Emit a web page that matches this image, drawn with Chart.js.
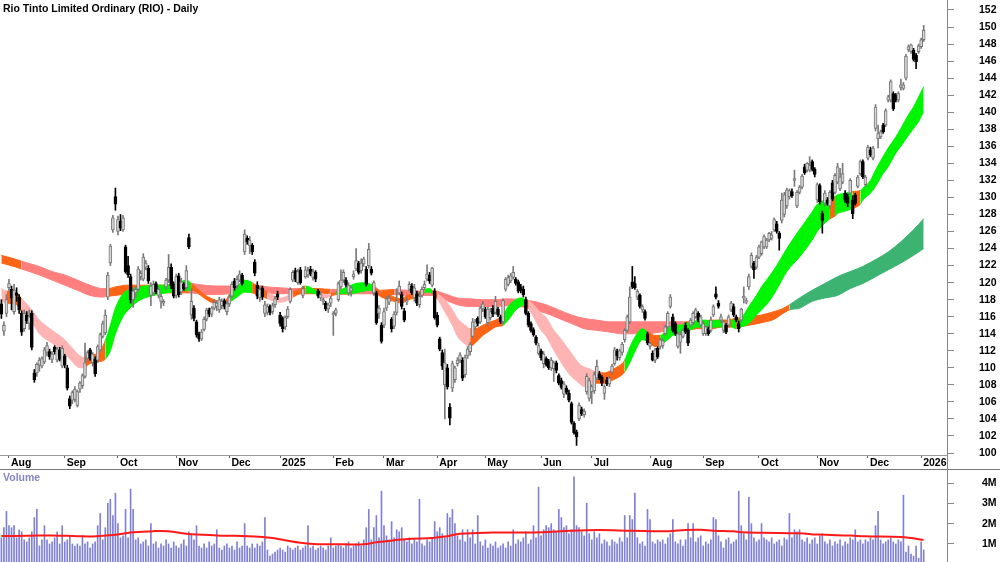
<!DOCTYPE html>
<html><head><meta charset="utf-8">
<script src="https://cdn.jsdelivr.net/npm/chart.js@4.4.1/dist/chart.umd.min.js"></script>
<style>
html,body{margin:0;padding:0;background:#fff;overflow:hidden;width:1000px;height:562px;}
#wrap{position:relative;width:1000px;height:562px;overflow:hidden;}
#pc{position:absolute;left:0;top:0;}
#vc{position:absolute;left:0;top:469px;}
.txt{position:absolute;font-family:"Liberation Sans",Arial,sans-serif;font-weight:bold;font-size:10.5px;line-height:13px;white-space:nowrap;}
#title{left:3px;top:2px;color:#000;}
#vlab{left:3px;top:471px;color:#8585c5;}
#hl{position:absolute;left:0;top:469px;width:1000px;height:1px;background:#777;}
#vl{position:absolute;left:947px;top:455px;width:1px;height:15px;background:#888;}
</style></head><body>
<div id="wrap">
<canvas id="pc" width="1000" height="469"></canvas>
<canvas id="vc" width="1000" height="93"></canvas>
<div id="hl"></div><div id="vl"></div>
<div class="txt" id="title">Rio Tinto Limited Ordinary (RIO) - Daily</div>
<div class="txt" id="vlab">Volume</div>
</div>
<script>
// ---- axis labels ----
const monthTickIndex  = [3,25,46,69,90,110,131,151,172,191,213,233,256,277,299,322,342,363];
const monthTickLabels = ['Aug','Sep','Oct','Nov','Dec','2025','Feb','Mar','Apr','May','Jun','Jul','Aug','Sep','Oct','Nov','Dec','2026'];
const priceTicks = [100,102,104,106,108,110,112,114,116,118,120,122,124,126,128,130,132,134,136,138,140,142,144,146,148,150,152];
const volumeTicks = [1,2,3,4];

// ---- daily candles [open, high, low, close], one per trading day from late Jul 2024 ----
const ohlc = [
[117.5,118.0,115.8,116.3],[114.3,115.4,113.8,115.0],[116.4,118.6,116.0,118.0],[119.4,120.4,119.0,119.9],[119.2,119.6,116.8,118.2],
[116.6,119.8,116.3,119.1],[118.8,119.4,117.8,118.5],[118.3,118.6,116.4,116.8],[116.4,116.7,113.8,114.2],[114.6,116.8,114.3,116.4],
[116.2,116.6,115.2,115.5],[115.2,116.8,114.5,116.0],[116.4,116.7,112.1,112.4],[109.4,109.8,108.3,108.6],[109.4,110.6,109.0,110.4],
[110.3,111.2,109.6,110.9],[110.2,111.3,110.0,111.1],[110.7,112.4,110.5,112.1],[111.8,113.0,111.4,112.6],[111.9,112.2,111.0,111.3],
[111.0,111.9,110.6,111.6],[112.4,112.6,111.6,111.9],[110.9,112.4,110.7,112.2],[112.1,112.4,110.8,111.0],[110.2,112.6,110.0,112.3],
[111.4,111.6,110.0,110.3],[110.0,110.3,107.4,107.6],[106.4,106.7,105.2,105.5],[106.2,107.3,105.8,107.1],[106.3,107.8,106.0,107.5],
[105.6,107.4,105.4,107.2],[107.5,108.4,107.1,108.2],[107.9,109.3,107.6,109.1],[109.0,112.9,108.8,110.6],[111.1,112.0,110.8,111.8],
[112.1,112.3,110.9,111.1],[110.6,111.8,110.2,111.6],[111.0,111.3,109.0,109.3],[110.9,112.7,110.6,112.5],[112.1,114.1,111.9,113.9],
[113.7,115.5,113.5,115.2],[114.1,116.8,113.9,116.2],[118.3,121.2,118.0,120.9],[122.3,124.5,122.0,124.3],[126.2,127.9,125.9,127.6],
[130.1,131.1,128.5,129.2],[126.0,127.8,125.6,127.4],[127.2,128.0,126.1,126.4],[126.2,127.9,126.0,127.6],[124.2,124.4,121.1,121.3],
[122.0,123.1,120.6,120.9],[120.7,121.0,117.6,118.0],[118.0,119.3,117.1,119.0],[118.8,119.5,118.3,119.2],[119.2,121.9,119.0,121.6],
[120.7,121.4,120.3,121.1],[120.4,123.4,120.2,123.0],[121.8,122.6,121.5,122.3],[121.7,122.0,119.9,120.2],[118.5,120.0,117.3,119.6],
[118.8,120.2,118.5,119.8],[119.9,120.1,118.7,118.9],[118.5,119.5,118.2,119.2],[117.8,118.7,117.0,118.4],[117.6,118.0,117.3,117.8],
[119.5,120.5,119.2,120.3],[120.3,123.3,120.0,121.8],[121.8,122.2,119.3,119.6],[119.8,120.1,118.2,118.4],[118.5,121.0,118.2,120.7],
[120.8,121.1,118.3,118.6],[118.9,120.5,118.6,120.1],[119.8,120.0,119.1,119.3],[119.4,122.0,119.2,121.4],[125.3,125.7,124.0,124.2],
[116.2,119.3,115.7,117.8],[117.0,117.3,115.5,115.8],[115.4,115.6,113.6,113.9],[114.0,114.2,113.1,113.4],[113.4,114.5,113.2,114.2],
[114.5,116.0,114.3,115.7],[115.7,117.0,115.5,116.8],[116.8,117.0,116.0,116.3],[116.3,117.2,116.0,117.0],[117.0,118.0,116.8,117.7],
[117.2,117.9,116.7,117.6],[116.8,118.3,116.5,118.0],[117.3,118.1,116.9,117.8],[117.9,118.1,116.9,117.2],[116.6,117.8,116.2,117.5],
[117.5,118.6,117.2,118.3],[118.4,120.1,118.2,119.8],[120.2,120.5,119.1,119.4],[119.6,120.8,119.3,120.4],[120.3,121.4,120.1,121.0],
[120.9,121.1,119.7,119.9],[123.6,126.2,123.3,125.7],[125.2,125.5,124.5,124.8],[124.3,125.4,123.4,125.0],[124.4,124.6,123.3,123.6],
[122.4,122.7,120.8,121.1],[119.7,120.1,118.1,118.4],[118.2,119.5,117.8,119.2],[119.4,119.6,118.0,118.3],[116.4,117.8,116.0,117.4],
[116.5,117.5,116.2,117.2],[117.2,117.4,116.2,116.5],[116.6,117.6,116.3,117.3],[117.4,118.4,117.1,118.1],[118.7,119.0,118.0,118.3],
[116.2,116.5,114.9,115.2],[115.8,116.0,114.2,114.6],[114.8,116.1,114.5,115.9],[116.0,117.2,115.8,116.9],[117.8,119.4,117.6,119.2],
[120.3,121.4,120.1,121.2],[121.4,121.7,120.1,120.4],[120.0,121.6,119.8,121.3],[121.5,121.8,119.8,120.0],[118.5,119.6,118.2,119.3],
[120.7,121.9,120.5,121.5],[120.9,121.8,120.6,121.4],[121.6,121.9,120.8,121.0],[120.6,121.6,120.3,121.3],[121.2,121.4,120.1,120.4],
[119.0,119.2,118.2,118.4],[118.2,118.9,117.9,118.6],[117.8,118.2,117.4,118.0],[117.6,117.8,116.7,116.9],[116.9,117.6,116.5,117.4],
[117.6,118.4,117.2,118.2],[116.2,116.6,113.8,116.4],[116.4,117.0,116.1,116.8],[118.0,120.1,117.8,119.9],[119.5,121.5,119.3,120.3],
[120.3,121.5,120.0,121.2],[120.3,120.6,119.5,119.7],[118.8,120.0,118.5,119.7],[119.0,119.6,118.4,119.4],[120.7,121.4,120.4,121.0],
[121.6,124.0,121.4,122.6],[122.3,122.5,121.0,121.2],[121.4,122.8,121.1,122.3],[122.2,123.0,121.9,122.8],[121.6,121.9,119.6,119.8],
[122.0,124.6,121.7,123.9],[121.6,121.9,120.9,121.1],[118.8,120.2,118.5,120.0],[118.8,119.0,115.1,115.3],[116.4,117.3,115.8,117.0],
[115.0,115.3,112.9,113.1],[115.0,117.0,114.7,116.6],[117.0,118.4,116.7,118.1],[117.7,118.5,117.4,118.2],[115.7,115.9,114.2,114.6],
[114.9,116.6,114.6,116.3],[116.5,119.3,116.2,117.9],[118.8,120.2,118.6,119.6],[118.6,118.9,116.9,117.2],[116.7,117.0,115.4,115.6],
[117.7,118.2,117.4,117.9],[119.2,120.1,119.0,119.8],[119.6,119.9,118.6,118.8],[118.2,119.8,117.8,119.4],[118.7,119.0,117.3,117.6],
[117.4,118.9,117.1,118.4],[118.5,119.5,118.3,119.2],[119.4,120.2,119.2,119.8],[120.4,122.1,120.2,121.0],[120.9,121.2,119.9,120.2],
[119.7,121.8,119.5,121.7],[119.0,119.3,115.7,115.9],[116.2,116.5,114.8,115.0],[113.4,113.6,112.0,112.2],[111.8,112.1,109.8,110.2],
[108.0,112.2,104.0,110.6],[110.0,110.4,107.5,107.8],[105.4,105.8,103.3,104.1],[107.6,110.8,107.2,110.5],[108.6,110.2,108.3,110.0],
[110.5,111.2,110.2,110.9],[110.9,111.8,110.6,111.5],[110.9,111.2,108.5,108.8],[109.2,111.5,108.9,111.2],[111.4,112.5,111.1,112.2],
[111.9,113.0,111.5,112.8],[113.7,115.8,113.5,115.4],[114.8,115.7,114.5,115.4],[115.8,116.0,114.9,115.2],[115.4,117.2,115.2,117.0],
[116.9,117.8,116.6,117.5],[116.9,117.1,115.8,116.0],[115.3,117.1,115.0,116.9],[115.9,117.0,115.6,116.6],[117.0,117.3,116.0,116.3],
[116.5,118.4,116.3,117.8],[116.9,117.1,116.0,116.2],[116.0,116.2,115.2,115.4],[115.4,118.1,115.2,117.9],[119.2,120.6,119.0,120.4],
[119.8,120.9,119.6,120.6],[120.2,121.1,120.0,120.8],[120.6,121.9,120.4,121.2],[120.4,120.6,119.7,119.9],[120.1,120.3,118.8,119.0],
[119.5,119.8,118.8,119.1],[119.2,119.6,118.3,118.6],[118.0,118.3,116.2,116.4],[116.4,116.6,114.8,115.0],[115.2,115.4,114.2,114.4],
[114.5,114.7,113.7,113.9],[113.6,113.8,112.7,112.9],[111.7,112.9,111.5,112.6],[112.0,112.2,110.9,111.2],[110.5,111.9,110.0,111.6],
[111.1,111.3,110.2,110.4],[110.8,111.0,109.8,110.0],[110.0,111.2,109.7,110.9],[109.9,110.8,108.4,110.6],[110.6,110.8,109.4,109.7],
[109.1,109.3,108.0,108.2],[108.5,108.8,107.5,107.7],[106.9,108.4,106.5,108.1],[107.6,107.9,106.9,107.1],[107.0,107.4,106.0,106.2],
[105.8,106.0,103.4,103.6],[103.5,103.7,102.2,102.4],[102.5,102.7,100.9,101.9],[104.0,105.9,103.8,105.6],[105.1,105.4,104.4,104.6],
[104.5,105.2,104.2,104.9],[107.2,109.3,106.9,109.0],[106.4,108.8,106.1,108.5],[107.2,108.0,105.8,107.8],[107.3,109.5,107.0,109.2],
[108.8,110.9,108.6,110.2],[109.3,109.6,108.6,108.8],[108.9,109.1,107.9,108.2],[107.0,108.0,106.3,107.8],[108.6,108.9,107.9,108.1],
[108.1,109.0,107.8,108.8],[109.5,110.4,109.3,110.2],[110.5,112.4,110.3,112.1],[112.0,112.2,110.9,111.4],[111.2,112.2,110.9,112.0],
[111.8,113.0,111.5,112.8],[113.3,114.6,113.0,114.4],[114.4,116.2,114.2,116.0],[115.4,119.5,115.2,118.3],[120.1,121.9,119.3,119.5],
[119.9,120.7,119.2,119.4],[118.3,119.2,118.0,119.0],[118.5,118.7,117.0,117.2],[116.8,117.4,116.5,117.2],[116.6,116.8,115.6,115.8],
[114.0,114.2,112.7,112.9],[112.5,113.0,112.2,112.9],[111.7,112.0,110.8,110.9],[110.9,112.3,110.6,112.1],[112.3,112.5,111.1,111.3],
[112.5,113.5,112.2,113.3],[112.6,113.4,112.3,113.2],[114.0,115.0,113.8,114.8],[114.8,116.6,114.6,116.4],[117.2,118.6,117.0,118.3],
[116.0,116.3,114.2,114.4],[115.2,115.4,113.8,114.0],[112.5,114.2,112.3,114.0],[113.0,114.2,111.7,113.9],[113.7,114.6,113.5,114.4],
[115.0,115.3,114.0,114.2],[114.4,114.6,112.6,112.9],[115.0,115.8,114.8,115.6],[115.3,116.6,115.1,116.4],[116.0,117.0,115.8,116.8],
[116.4,116.6,115.4,115.6],[115.0,116.2,114.8,116.0],[114.0,115.4,113.8,115.2],[114.0,114.9,113.8,114.8],[114.6,114.8,113.8,114.0],
[114.4,116.0,114.2,115.6],[116.2,117.4,116.0,117.2],[118.7,119.5,118.1,118.3],[117.6,117.9,117.0,117.2],[115.6,116.3,115.3,116.0],
[114.4,115.6,114.1,115.4],[115.0,115.2,114.0,114.2],[115.0,116.2,114.8,116.0],[116.8,117.8,116.6,117.6],[117.2,117.5,116.0,116.2],
[116.0,116.2,115.4,115.6],[115.2,115.5,114.2,114.6],[115.6,117.0,115.4,116.9],[118.2,119.5,117.6,118.4],[117.7,118.2,117.5,117.9],
[119.5,121.0,119.2,120.7],[121.9,123.5,121.7,123.2],[122.3,122.5,120.5,121.5],[121.8,123.2,121.6,123.0],[123.0,124.4,122.8,124.2],
[123.4,124.9,123.2,124.8],[124.2,125.6,124.0,125.4],[124.2,125.2,124.0,125.0],[125.0,125.9,124.8,125.8],[125.2,126.0,125.0,125.6],
[126.2,127.6,126.0,127.4],[126.9,127.2,125.8,126.0],[125.8,126.0,123.8,125.2],[127.3,130.5,127.0,129.7],[128.0,130.6,127.7,130.3],
[129.0,131.1,128.7,130.9],[130.1,131.0,129.8,130.8],[130.7,131.0,130.0,130.2],[132.0,133.2,131.3,132.2],[129.0,130.8,128.8,130.6],
[130.6,131.4,130.4,131.2],[131.2,132.7,131.0,132.5],[133.6,133.9,132.7,132.9],[133.2,134.1,133.0,134.0],[133.2,134.8,133.0,133.8],
[134.2,134.4,133.1,133.3],[133.3,133.5,132.4,132.7],[129.7,131.7,129.4,131.5],[131.4,131.6,129.2,129.5],[128.1,128.4,125.8,127.3],
[129.3,130.8,129.0,130.5],[129.7,130.0,129.1,129.3],[129.0,130.8,128.7,130.6],[131.7,132.0,129.6,129.8],[130.6,132.8,130.4,132.6],
[131.8,134.0,131.6,133.6],[131.0,133.4,130.8,132.4],[131.8,134.0,131.6,132.8],[130.5,130.8,129.4,129.7],[130.1,130.4,128.9,129.3],
[130.5,132.2,130.3,132.0],[129.7,130.2,127.5,128.1],[130.3,130.5,129.1,129.3],[131.3,132.6,131.1,132.4],[132.8,134.4,132.6,134.2],
[134.2,134.4,132.2,132.4],[131.5,132.6,131.3,132.4],[134.6,136.1,134.4,135.9],[135.6,135.9,134.8,135.0],[134.6,136.0,134.4,135.8],
[138.1,140.9,137.8,140.6],[136.9,138.5,135.8,137.5],[137.1,137.9,136.9,137.7],[138.5,138.7,137.5,137.7],[138.5,140.4,138.3,140.2],
[141.4,142.0,141.2,141.8],[141.4,143.8,141.2,143.6],[142.2,142.4,140.2,140.4],[142.0,142.2,141.2,141.4],[141.4,142.4,141.2,142.2],
[142.9,143.9,142.6,143.2],[142.8,143.5,142.6,143.2],[144.0,146.8,143.8,146.6],[147.3,147.9,147.1,147.7],[147.1,148.0,146.9,147.9],
[147.3,147.5,146.0,146.2],[146.7,146.9,145.1,145.9],[147.1,148.0,146.9,147.8],[147.7,148.7,147.5,148.5],[148.5,150.2,148.3,149.6]
];

// ---- daily volume (millions), same days ----
const volumeM = [
1.3,1.8,2.6,1.9,1.8,1.9,1.3,1.7,1.6,1.2, 1.1,1.3,1.6,2.3,2.7,0.9,1.2,1.9,1.2,1.0,
1.1,1.3,1.6,1.0,1.9,1.1,1.2,1.4,1.0,0.9, 1.0,0.9,1.4,1.0,1.1,0.8,1.0,1.1,1.9,2.5,
1.2,1.8,3.0,3.2,2.4,3.5,2.0,1.3,1.4,2.7, 1.3,3.7,2.7,1.2,1.3,1.0,1.1,1.2,0.9,2.0,
1.0,1.1,0.8,1.0,0.9,1.2,1.0,0.8,1.1,0.9, 0.8,1.0,1.2,0.9,1.6,1.5,1.2,1.9,0.9,0.8,
1.0,0.8,1.1,0.9,1.0,1.7,0.8,0.7,0.9,1.0, 0.8,0.9,0.7,1.1,0.8,0.9,2.0,0.9,0.8,1.0,
0.8,1.0,0.9,1.1,2.3,0.7,0.4,0.5,0.6,0.7, 0.8,0.7,0.6,0.9,0.8,0.7,0.8,0.9,0.7,0.8,
0.9,1.9,0.8,0.9,0.7,0.8,0.9,0.8,0.7,0.9, 1.3,0.8,0.9,1.0,0.9,0.8,1.0,1.1,0.8,0.9,
1.0,1.1,0.9,1.2,1.8,2.7,1.2,1.8,2.4,1.3, 3.6,1.9,1.4,1.2,2.1,1.3,1.7,1.6,1.8,1.2,
1.1,1.3,1.0,1.2,1.1,3.2,1.0,0.9,1.2,1.1, 1.3,2.1,1.6,1.8,1.5,1.3,2.5,2.3,2.7,2.0,
1.4,1.2,1.7,1.1,1.7,1.3,1.7,1.0,2.4,1.1, 0.9,1.2,0.8,1.0,0.9,1.1,0.8,0.9,1.0,0.8,
1.1,0.9,1.7,1.0,1.2,1.1,1.3,1.6,1.0,1.2, 1.9,1.3,3.8,1.4,1.7,1.9,1.8,2.0,1.7,1.6,
2.7,2.3,1.8,1.9,1.5,1.7,4.3,1.9,1.8,1.6, 1.4,3.0,1.5,1.2,1.6,1.3,1.5,1.0,1.2,1.1,
0.9,1.2,1.1,1.0,1.3,1.1,2.4,1.3,2.4,2.2, 3.5,1.3,1.0,1.1,0.9,2.7,2.2,1.1,1.0,1.2,
1.1,1.2,1.0,1.3,1.5,2.2,1.1,1.0,1.2,0.9, 1.2,2.0,1.3,2.0,1.1,1.3,1.4,0.9,1.1,1.0,
1.2,2.3,2.2,1.4,1.1,0.8,1.2,1.3,1.0,1.1, 1.2,3.6,1.9,1.5,1.2,3.3,2.0,1.3,1.1,1.2,
2.0,1.3,1.2,1.1,1.3,1.0,1.1,1.2,0.9,1.3, 1.2,2.5,1.3,1.7,1.6,1.7,1.2,1.1,1.3,1.0,
1.2,1.3,1.0,1.4,1.5,1.1,1.0,1.2,0.9,1.1, 1.0,1.2,0.9,1.1,1.0,1.3,1.2,1.7,1.1,1.2,
1.0,1.2,1.1,1.3,1.2,1.9,2.6,1.2,1.0,1.1, 1.2,1.3,1.1,1.0,1.2,1.1,3.4,0.6,0.9,0.5,
0.4,0.9,0.3,1.1,0.7
];

// ---- volume average line (read at these day positions) ----
const volAvgIdx = [0,10,20,30,36,45,52,60,66,73,85,92,100,106,112,118,125,135,143,148,155,162,170,176,181,194,205,213,225,236,249,263,270,276,281,289,292,300,315,322,335,341,355,359,364];
const volAvg    = [1.39,1.40,1.42,1.38,1.37,1.45,1.57,1.63,1.62,1.50,1.42,1.40,1.37,1.30,1.18,1.06,0.99,0.98,0.98,1.08,1.18,1.26,1.29,1.38,1.50,1.56,1.56,1.57,1.65,1.68,1.65,1.63,1.69,1.70,1.65,1.62,1.58,1.55,1.52,1.46,1.41,1.38,1.34,1.29,1.20];

// ---- fast (short-term) ribbon: S = bearish, M = mixed, G = bullish ----
const shortIdx   = [0,2,6,8,10,12,15,20,25,28,31,33,35,38,41,43,45,48,50,55,60,65,70,73,75,77,80,85,88,90,93,96,99,100,103,105,108,110,112,115,118,120,124,125,128,130,132,135,138,140,143,145,147,150,153,155,158,160,163,165,167,169,170,172,175,178,180,183,185,187,190,193,195,198,200,203,205,207,208,210,213,215,218,220,223,225,228,230,232,234,238,240,243,245,246,248,250,253,255,258,260,263,265,268,270,273,275,278,280,283,285,287,288,290,291,292,295,298,300,303,306,310,315,320,322,325,327,329,330,333,336,339,340,343,345,348,350,353,355,358,360,362,364];
const shortHi    = [119.3,119.0,118.8,118.1,117.5,116.8,115.6,114.4,113.3,112.3,111.4,111.2,111.5,111.7,113.2,115.0,117.0,118.7,119.1,119.5,119.7,119.7,120.0,120.3,119.9,119.4,118.6,117.9,117.8,118.6,119.5,120.3,120.0,119.8,119.2,118.9,118.4,118.2,118.3,118.9,119.3,119.6,119.1,118.9,118.6,118.7,118.9,119.3,119.7,119.9,120.0,119.9,119.6,118.9,118.6,118.3,118.1,118.5,118.7,118.9,119.2,119.3,119.1,118.7,118.0,116.8,115.8,115.0,114.6,114.6,115.0,115.4,115.6,116.2,117.2,118.0,118.2,118.0,117.9,117.4,116.4,115.9,114.4,113.7,112.5,111.7,110.5,110.1,109.9,109.6,109.4,109.6,110.1,110.5,110.9,112.4,113.6,114.6,114.2,113.8,113.8,114.6,115.0,115.0,115.2,115.4,115.6,115.6,115.5,115.6,115.4,115.5,115.6,115.6,115.7,115.8,117.2,118.5,119.5,120.7,122.0,124.0,126.2,128.3,129.2,129.7,129.9,130.1,130.3,130.5,130.7,130.8,131.1,132.0,133.2,134.8,135.8,137.1,138.1,139.7,140.6,141.8,143.0];
const shortLo    = [117.8,117.6,117.4,116.6,116.0,115.4,114.0,112.9,111.7,110.7,110.0,110.1,110.5,110.7,111.0,112.0,114.0,116.0,116.8,118.0,118.5,118.8,119.0,119.1,119.1,118.9,118.2,117.5,117.5,117.7,118.3,118.9,118.8,118.7,118.4,118.1,117.8,117.7,117.8,118.3,118.7,118.8,118.7,118.4,118.2,118.4,118.6,118.7,118.7,118.8,119.0,119.1,119.0,118.3,118.0,117.8,117.6,117.9,118.2,118.5,118.8,118.9,118.7,118.1,116.6,115.0,113.7,112.8,112.5,112.9,113.8,114.4,114.8,115.0,115.6,116.8,117.2,117.4,117.0,116.0,114.4,113.7,112.1,111.1,109.7,109.0,108.2,107.8,107.8,108.2,108.2,108.4,108.8,109.2,109.5,110.6,111.9,113.3,113.1,112.5,112.7,113.3,113.8,114.0,114.2,114.6,114.8,114.6,114.7,114.8,114.8,114.8,114.8,114.6,114.7,114.8,115.2,116.2,116.8,117.8,119.2,121.3,123.0,125.0,126.0,127.0,127.5,127.8,128.1,128.4,128.7,129.2,129.7,130.5,131.3,132.8,133.6,135.2,136.0,137.3,138.1,138.9,140.1];
const shortState = ['S','M','M','S','S','S','S','S','S','S','S','M','M','M','G','G','G','G','G','G','G','G','G','G','M','M','M','S','M','G','G','G','M','M','M','S','S','S','S','M','M','G','G','S','S','M','G','G','G','G','G','G','M','M','M','M','M','M','M','M','G','G','M','S','S','S','S','S','M','M','M','M','M','G','G','G','G','M','S','S','S','S','S','S','S','S','S','S','S','M','M','M','M','M','G','G','G','G','M','M','G','G','G','G','G','G','G','G','G','G','M','M','G','M','G','G','G','G','G','G','G','G','G','G','G','G','M','G','G','G','M','G','G','G','G','G','G','G','G','G','G','G','G'];

// ---- slow (long-term) ribbon: B = bearish, M = mixed, U = bullish ----
const longIdx   = [0,5,8,15,20,25,30,35,40,42,45,50,55,60,65,70,74,80,85,90,95,100,105,110,115,120,125,130,135,140,145,150,155,160,165,170,172,175,180,185,190,195,200,205,210,215,220,225,230,235,240,245,250,255,260,265,270,275,280,285,290,295,300,305,308,311,315,320,325,330,335,340,345,350,355,360,364];
const longHi    = [123.2,122.8,122.5,121.9,121.3,120.9,120.3,119.7,119.3,119.3,119.5,119.7,119.7,119.7,119.7,119.8,119.9,119.7,119.6,119.6,119.7,119.7,119.5,119.4,119.3,119.3,119.3,119.2,119.2,119.3,119.3,119.1,119.2,119.1,119.0,119.1,119.0,118.7,118.2,118.1,118.0,118.0,118.1,118.0,117.8,117.4,116.8,116.2,115.8,115.6,115.4,115.4,115.4,115.4,115.4,115.4,115.4,115.4,115.6,115.6,115.8,116.0,116.2,116.6,116.9,117.4,118.2,119.1,119.9,120.7,121.3,121.9,122.7,123.6,124.8,126.2,127.5];
const longLo    = [122.3,121.9,121.6,120.9,120.3,119.7,119.1,118.5,118.3,118.4,118.5,118.7,118.9,118.9,118.8,118.8,118.8,118.6,118.6,118.7,118.9,118.9,118.7,118.7,118.7,118.7,118.7,118.7,118.6,118.7,118.7,118.5,118.6,118.5,118.5,118.5,118.3,118.0,117.4,117.2,117.2,117.2,117.3,117.2,116.8,116.4,115.8,115.2,114.6,114.4,114.2,114.0,114.0,114.0,114.2,114.4,114.4,114.6,114.6,114.8,114.8,115.0,115.3,115.7,116.3,116.8,117.0,117.8,118.2,118.5,119.3,119.9,120.7,121.5,122.3,123.2,124.0];
const longState = ['M','M','B','B','B','B','B','B','B','M','M','M','M','M','M','M','B','B','B','B','B','B','B','B','B','M','M','B','B','B','B','M','B','B','B','B','B','B','B','B','B','B','B','B','B','B','B','B','B','B','B','B','B','B','B','B','M','M','M','M','M','M','M','M','M','U','U','U','U','U','U','U','U','U','U','U','U'];

// ---- drawing ----
const palette = {S:'#ffb4b4', B:'#ff7f7f', M:'#ff6414', G:'#00f500', U:'#3cb371'};
const FONT = '"Liberation Sans",Arial,sans-serif';
const xMin = -0.55, xMax = 373.2;
const isUp = ohlc.map(c => c[3] >= c[0]);

function ribbon(idx, vals, state, fill) {
  return {
    type: 'line',
    data: idx.map((x, k) => ({x: x, y: vals[k]})),
    fill: fill,
    pointRadius: 0, borderWidth: 1, tension: 0.4, cubicInterpolationMode: 'monotone',
    borderColor: palette[state[0]], backgroundColor: palette[state[0]],
    segment: {
      borderColor: c => palette[state[c.p0DataIndex]],
      backgroundColor: c => palette[state[c.p0DataIndex]]
    }
  };
}
function noPadY(s) { s.width = 53; s.paddingTop = 0; s.paddingBottom = 0; }

const axisFont = {family: FONT, weight: 'bold', size: 10.5, lineHeight: 1};

new Chart(document.getElementById('pc'), {
  type: 'bar',
  data: {datasets: [
    {type: 'bar', data: ohlc.map((c, i) => ({x: i, y: [c[0], c[3]]})),
     backgroundColor: ctx => isUp[ctx.dataIndex] ? '#d6d6d6' : '#000',
     borderColor: ctx => isUp[ctx.dataIndex] ? '#777' : '#000',
     borderWidth: 1, borderSkipped: false, barThickness: 3, grouped: false, minBarLength: 1},
    {type: 'bar', data: ohlc.map((c, i) => ({x: i, y: [c[2], c[1]]})),
     backgroundColor: ctx => isUp[ctx.dataIndex] ? '#7a7a7a' : '#000',
     borderWidth: 0, barThickness: 1, grouped: false},
    ribbon(shortIdx, shortHi, shortState, '+1'),
    ribbon(shortIdx, shortLo, shortState, false),
    ribbon(longIdx, longHi, longState, '+1'),
    ribbon(longIdx, longLo, longState, false)
  ]},
  options: {
    responsive: false, animation: false, events: [],
    layout: {padding: 0},
    plugins: {legend: {display: false}, tooltip: {enabled: false}},
    scales: {
      x: {type: 'linear', min: xMin, max: xMax, offset: false,
          afterBuildTicks: s => { s.ticks = monthTickIndex.map(v => ({value: v})); },
          afterFit: s => { s.height = 14; s.paddingLeft = 0; s.paddingRight = 0; },
          grid: {drawOnChartArea: false, drawTicks: true, tickLength: 3, color: '#666', offset: false},
          border: {display: true, color: '#999'},
          ticks: {autoSkip: false, maxRotation: 0, align: 'start', labelOffset: 2, padding: 0,
                  color: '#000', font: axisFont,
                  callback: v => monthTickLabels[monthTickIndex.indexOf(v)]}},
      y: {type: 'linear', position: 'right', min: 99.77, max: 153.17,
          afterBuildTicks: s => { s.ticks = priceTicks.map(v => ({value: v})); },
          afterFit: noPadY,
          grid: {drawOnChartArea: false, drawTicks: true, tickLength: 7, color: '#888'},
          border: {display: true, color: '#888'},
          ticks: {crossAlign: 'near', padding: 25, color: '#000', font: axisFont,
                  callback: v => String(v)}}
    }
  }
});

new Chart(document.getElementById('vc'), {
  type: 'bar',
  data: {datasets: [
    {type: 'line', data: volAvgIdx.map((x, k) => ({x: x, y: volAvg[k]})),
     borderColor: '#ff1a1a', borderWidth: 2, pointRadius: 0, tension: 0.4, fill: false},
    {type: 'bar', data: volumeM.map((v, i) => ({x: i, y: v})),
     backgroundColor: '#8080d4', borderWidth: 0, barThickness: 1, grouped: false}
  ]},
  options: {
    responsive: false, animation: false, events: [],
    layout: {padding: 0},
    plugins: {legend: {display: false}, tooltip: {enabled: false}},
    scales: {
      x: {type: 'linear', min: xMin, max: xMax, offset: false, display: false},
      y: {type: 'linear', position: 'right', min: 0.11, max: 4.69,
          afterBuildTicks: s => { s.ticks = volumeTicks.map(v => ({value: v})); },
          afterFit: noPadY,
          grid: {drawOnChartArea: false, drawTicks: true, tickLength: 7, color: '#888'},
          border: {display: true, color: '#888'},
          ticks: {crossAlign: 'near', padding: 28, color: '#000', font: axisFont,
                  callback: v => v + 'M'}}
    }
  }
});
</script>
</body></html>
